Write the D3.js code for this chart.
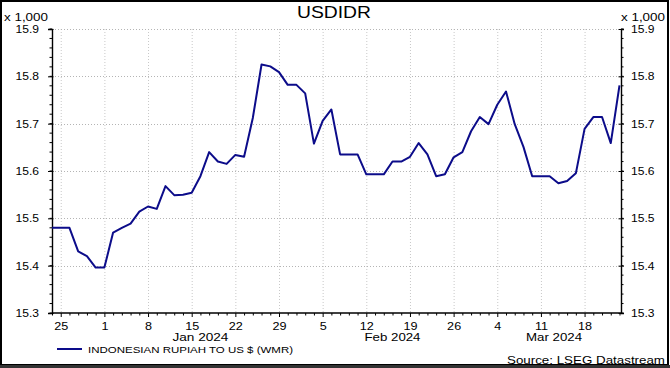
<!DOCTYPE html>
<html>
<head>
<meta charset="utf-8">
<script src="https://cdn.jsdelivr.net/npm/d3@7"></script>
<style>
  body { margin: 0; background: #fff; }
  svg { display: block; font-family: "Liberation Sans", Arial, sans-serif; }
</style>
</head>
<body>
<svg width="670" height="368"></svg>
<script>
// business days shown on the chart
const startDate = "2023-12-22";
const endDate = "2024-03-22";

// USDIDR fixing, in thousands, one value per business day
const rates = [
  15.480, 15.480, 15.480, 15.430, 15.420, 15.396, 15.396, 15.470, 15.480, 15.489,
  15.514, 15.525, 15.520, 15.568, 15.549, 15.550, 15.554, 15.589, 15.640, 15.620,
  15.615, 15.634, 15.630, 15.712, 15.825, 15.821, 15.809, 15.782, 15.782, 15.764,
  15.658, 15.706, 15.730, 15.635, 15.635, 15.635, 15.593, 15.593, 15.593, 15.620,
  15.620, 15.630, 15.659, 15.635, 15.589, 15.593, 15.629, 15.640, 15.684, 15.714,
  15.699, 15.740, 15.768, 15.699, 15.651, 15.589, 15.589, 15.589, 15.574, 15.579,
  15.595, 15.689, 15.714, 15.714, 15.659, 15.781
];

const yTicks = [15.3, 15.4, 15.5, 15.6, 15.7, 15.8, 15.9];
const months = ["Jan 2024", "Feb 2024", "Mar 2024"];

const title = "USDIDR";
const seriesName = "INDONESIAN RUPIAH TO US $ (WMR)";
const source = "Source: LSEG Datastream";

// build the list of weekdays
const parse = d3.utcParse("%Y-%m-%d");
const days = d3.utcDays(parse(startDate), d3.utcDay.offset(parse(endDate), 1))
  .filter(d => d.getUTCDay() !== 0 && d.getUTCDay() !== 6);
const data = days.map((d, i) => ({ date: d, i: i, value: rates[i] }));

const svg = d3.select("svg");
const plotLeft = 52, plotRight = 621, plotTop = 29, plotBottom = 313;

const x = d3.scaleLinear().domain([0, days.length - 1]).range([plotLeft, plotRight - 1.5]);
const y = d3.scaleLinear().domain([15.3, 15.9]).range([plotBottom, plotTop]);

// datastream text is wide, stretch glyphs horizontally
function stretch(sel, k) {
  sel.each(function () {
    const w = this.getComputedTextLength();
    if (w > 0) d3.select(this).attr("textLength", w * k).attr("lengthAdjust", "spacingAndGlyphs");
  });
}

// frame
svg.append("rect")
  .attr("x", 1).attr("y", 1).attr("width", 667).attr("height", 364)
  .attr("fill", "none").attr("stroke", "#000").attr("stroke-width", 2);
svg.append("line")
  .attr("x1", 0).attr("x2", 670).attr("y1", 366.5).attr("y2", 366.5)
  .attr("stroke", "#333").attr("stroke-width", 3);

// title
svg.append("text")
  .attr("x", 297).attr("y", 17.5)
  .attr("font-size", "16.5px")
  .attr("textLength", 74)
  .attr("lengthAdjust", "spacingAndGlyphs")
  .text(title);

// grid
const mondays = data.filter(d => d.date.getUTCDay() === 1);
svg.append("g").attr("class", "grid")
  .selectAll("line.v")
  .data(mondays)
  .join("line")
  .attr("x1", d => x(d.i) + 0.5).attr("x2", d => x(d.i) + 0.5)
  .attr("y1", plotTop).attr("y2", plotBottom)
  .attr("stroke", "#c8c8c8").attr("stroke-dasharray", "1,2");

svg.append("g").attr("class", "grid")
  .selectAll("line.h")
  .data(yTicks.slice(1))
  .join("line")
  .attr("x1", plotLeft).attr("x2", plotRight)
  .attr("y1", d => Math.round(y(d)) + 0.5).attr("y2", d => Math.round(y(d)) + 0.5)
  .attr("stroke", "#b4b4b4").attr("stroke-dasharray", "1,2");

// y axes
const minorY = d3.range(15.3, 15.9001, 0.02);
const leftAxis = d3.axisLeft(y)
  .tickValues(yTicks)
  .tickFormat(d3.format(".1f"))
  .tickSize(4)
  .tickPadding(9);
const la = svg.append("g")
  .attr("class", "left axis")
  .attr("transform", `translate(${plotLeft},0)`)
  .call(leftAxis);
la.selectAll(".tick line").attr("x1", 1.5);
la.append("g")
  .selectAll("line")
  .data(minorY)
  .join("line")
  .attr("x1", -2.5).attr("x2", 0)
  .attr("y1", d => y(d)).attr("y2", d => y(d))
  .attr("stroke", "#000");

const rightAxis = d3.axisRight(y)
  .tickValues(yTicks)
  .tickFormat(d3.format(".1f"))
  .tickSize(3)
  .tickPadding(7);
const ra = svg.append("g")
  .attr("class", "right axis")
  .attr("transform", `translate(${plotRight},0)`)
  .call(rightAxis);
ra.selectAll(".tick line").attr("x1", -2.5);
ra.append("g")
  .selectAll("line")
  .data(minorY)
  .join("line")
  .attr("x1", 0).attr("x2", 2.5)
  .attr("y1", d => y(d)).attr("y2", d => y(d))
  .attr("stroke", "#000");

svg.selectAll(".axis path.domain").attr("stroke", "#000").attr("stroke-width", 1.4);
svg.selectAll(".axis text").attr("font-size", "10.5px").attr("fill", "#000")
  .attr("font-family", "Liberation Sans, Arial, sans-serif");
stretch(svg.selectAll(".left.axis text, .right.axis text"), 1.15);

svg.append("text").attr("x", 4).attr("y", 20.5).attr("font-size", "10px")
  .attr("textLength", 44).attr("lengthAdjust", "spacingAndGlyphs").text("x 1,000");
svg.append("text").attr("x", 621).attr("y", 20.5).attr("font-size", "10px")
  .attr("textLength", 44).attr("lengthAdjust", "spacingAndGlyphs").text("x 1,000");

// x axis, one tick per business day, labels on mondays
const bottomAxis = d3.axisBottom(x)
  .tickValues(data.map(d => d.i))
  .tickSize(2.5)
  .tickPadding(6)
  .tickFormat(d => days[d].getUTCDay() === 1 ? d3.utcFormat("%-d")(days[d]) : "");
const ba = svg.append("g")
  .attr("class", "bottom axis")
  .attr("transform", `translate(0,${plotBottom})`)
  .call(bottomAxis);
ba.select("path.domain").attr("d", `M${plotLeft},0H${plotRight}`).attr("stroke-width", 1.4);
ba.selectAll(".tick")
  .filter(d => days[d].getUTCDay() === 1)
  .select("line").attr("y2", 4);
ba.selectAll(".tick text").attr("font-size", "10.5px").attr("dy", "0.8em");
stretch(ba.selectAll(".tick text"), 1.2);

// month labels centred on each month's span
svg.append("g")
  .selectAll("text")
  .data(months)
  .join("text")
  .attr("x", m => {
    const idx = data.filter(d => d3.utcFormat("%b %Y")(d.date) === m).map(d => d.i);
    return (x(d3.min(idx)) + x(d3.max(idx))) / 2 - 28;
  })
  .attr("y", 341)
  .attr("font-size", "10.5px")
  .attr("textLength", 56)
  .attr("lengthAdjust", "spacingAndGlyphs")
  .text(m => m);

// series line
const line = d3.line()
  .x(d => x(d.i))
  .y(d => y(d.value));
svg.append("path")
  .datum(data)
  .attr("fill", "none")
  .attr("stroke", "#0c0c8a")
  .attr("stroke-width", 2)
  .attr("stroke-linejoin", "round")
  .attr("d", line);

// legend
svg.append("line")
  .attr("x1", 57).attr("x2", 82).attr("y1", 349).attr("y2", 349)
  .attr("stroke", "#0c0c8a").attr("stroke-width", 2);
svg.append("text")
  .attr("x", 88).attr("y", 352.5)
  .attr("font-size", "9.5px")
  .attr("textLength", 205)
  .attr("lengthAdjust", "spacingAndGlyphs")
  .text(seriesName);

svg.append("text")
  .attr("x", 507).attr("y", 364)
  .attr("font-size", "10.5px")
  .attr("textLength", 158)
  .attr("lengthAdjust", "spacingAndGlyphs")
  .text(source);
</script>
</body>
</html>
